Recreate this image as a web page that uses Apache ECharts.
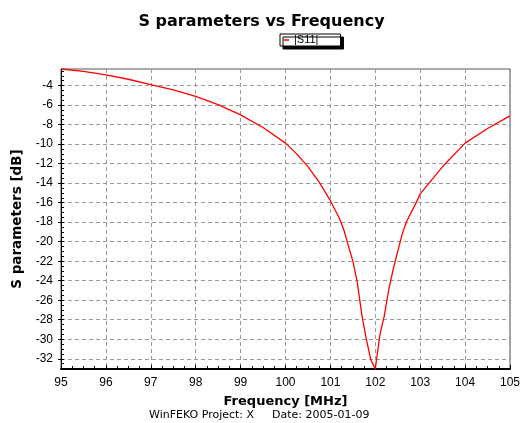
<!DOCTYPE html>
<html>
<head>
<meta charset="utf-8">
<script src="https://cdn.jsdelivr.net/npm/echarts@6/dist/echarts.min.js"></script>
<style>html,body{margin:0;padding:0;background:#fff}#c{width:523px;height:423px}</style>
</head>
<body>
<div id="c"></div>
<script>
var freq = [95.0, 95.5, 96.0, 96.5, 97.0, 97.5, 98.0, 98.5, 99.0, 99.5, 100.0, 100.25, 100.5, 100.75,
  101.0, 101.1, 101.2, 101.3, 101.4, 101.5, 101.6, 101.7, 101.8, 101.9, 102.0,
  102.1, 102.2, 102.3, 102.4, 102.5, 102.6, 102.7, 102.8, 102.9, 103.0, 103.5, 104.0, 104.5, 105.0];
var s11 = [-2.3, -2.55, -2.9, -3.35, -3.9, -4.45, -5.1, -5.95, -7.0, -8.3, -9.9, -11.0, -12.3, -13.9,
  -15.8, -16.7, -17.6, -18.8, -20.4, -22.0, -24.2, -27.5, -30.0, -32.1, -33.05,
  -29.6, -27.6, -24.9, -22.8, -21.0, -19.2, -17.9, -17.0, -16.1, -15.1, -12.3, -9.9, -8.4, -7.1];
var yTicks = [-32, -30, -28, -26, -24, -22, -20, -18, -16, -14, -12, -10, -8, -6, -4];
var xTicks = [95, 96, 97, 98, 99, 100, 101, 102, 103, 104, 105];
var yMin = -33.05, yMax = -2.3;
var yMinor = [];
for (var v = -33; v <= -2.5; v += 0.5) { if (yTicks.indexOf(v) < 0) yMinor.push(v); }

var chart = echarts.init(document.getElementById('c'));
var data = freq.map(function (f, i) { return [f, s11[i]]; });
var footStyle = { fontFamily: 'DejaVu Sans', fontSize: 11, fontWeight: 'normal', color: '#000' };
chart.setOption({
  animation: false,
  title: [{
    text: 'S parameters vs Frequency', left: 'center', top: 9,
    textStyle: { fontFamily: 'DejaVu Sans', fontSize: 16, fontWeight: 'bold', color: '#000' }
  }, {
    text: 'WinFEKO Project: X', left: 149, top: 410, padding: 0, textStyle: footStyle
  }, {
    text: 'Date: 2005-01-09', left: 272, top: 410, padding: 0, textStyle: footStyle
  }],
  legend: {
    data: ['|S11|'], left: 280, top: 34, padding: [0, 22, 0, 4],
    backgroundColor: '#fff', borderColor: '#000', borderWidth: 1,
    shadowColor: '#000', shadowBlur: 0, shadowOffsetX: 3, shadowOffsetY: 3,
    icon: 'rect', itemWidth: 5, itemHeight: 1.5, itemGap: 4,
    textStyle: { fontFamily: 'Liberation Sans', fontSize: 11, color: '#000', lineHeight: 12 }
  },
  grid: { left: 61, right: 9, top: 69, bottom: 54, show: true, borderColor: '#555', borderWidth: 1 },
  xAxis: {
    type: 'value', min: 95, max: 105, interval: 1,
    name: 'Frequency [MHz]', nameLocation: 'middle', nameGap: 26,
    nameTextStyle: { fontFamily: 'DejaVu Sans', fontSize: 13, fontWeight: 'bold', color: '#000', verticalAlign: 'top' },
    axisLine: { show: true, onZero: false, lineStyle: { color: '#000', width: 2 } },
    axisTick: { show: true, inside: true, length: 4, customValues: xTicks, lineStyle: { color: '#000' } },
    minorTick: { show: true, splitNumber: 4, length: 3, lineStyle: { color: '#000' } },
    axisLabel: { customValues: xTicks, margin: 8, fontFamily: 'Liberation Sans', fontSize: 12, color: '#000' },
    splitLine: { show: true, lineStyle: { color: '#999', type: [4, 3], width: 1 } }
  },
  yAxis: [{
    type: 'value', min: yMin, max: yMax,
    name: 'S parameters [dB]', nameLocation: 'middle', nameGap: 36, nameRotate: 90,
    nameTextStyle: { fontFamily: 'DejaVu Sans', fontSize: 13.5, fontWeight: 'bold', color: '#000' },
    axisLine: { show: true, onZero: false, lineStyle: { color: '#000', width: 1 } },
    axisTick: { show: true, inside: false, length: 3, customValues: yTicks, lineStyle: { color: '#000' } },
    axisLabel: { customValues: yTicks, margin: 8, fontFamily: 'Liberation Sans', fontSize: 12, color: '#000' },
    splitLine: { show: true, lineStyle: { color: '#999', type: [4, 3], width: 1 } }
  }, {
    type: 'value', min: yMin, max: yMax, position: 'left',
    axisLine: { show: false },
    axisTick: { show: true, inside: true, length: 3, customValues: yMinor.concat(yTicks), lineStyle: { color: '#000' } },
    axisLabel: { show: false },
    splitLine: { show: false }
  }],
  series: [{
    name: '|S11|', type: 'line', data: data, showSymbol: false, symbol: 'none',
    lineStyle: { color: '#ff0000', width: 1.3 }, itemStyle: { color: '#ff0000' }, clip: true
  }]
});
</script>
</body>
</html>
